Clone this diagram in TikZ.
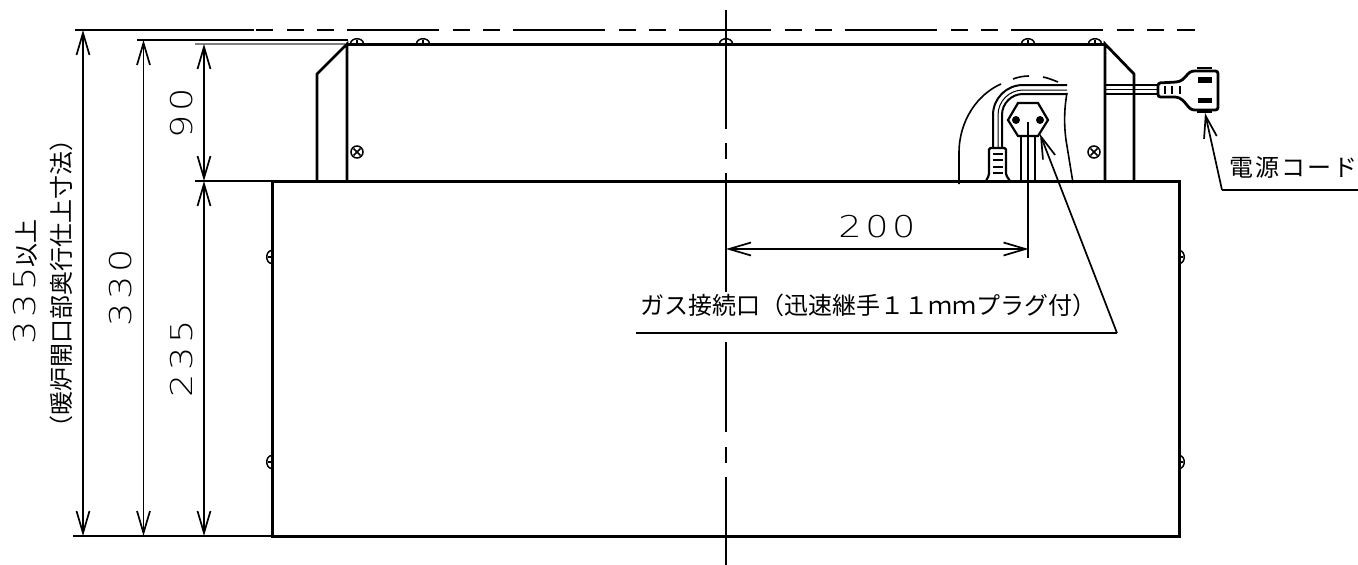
\documentclass[tikz,border=0pt]{standalone}
\usepackage{fontspec}
\setmainfont{Noto Sans CJK JP}
\newfontfamily\cjk{Noto Sans CJK JP}
\newfontfamily\digits[LetterSpace=12,FakeStretch=1.22]{DejaVu Sans ExtraLight}
\usetikzlibrary{arrows.meta,calc}

\begin{document}
\begin{tikzpicture}[
    x=1pt,y=-1pt,
    >={Straight Barb[length=22pt,width=13pt]},
    body/.style={
        draw,
        line width=3pt,
        minimum width=907pt,
        minimum height=355pt,
        inner sep=0pt,
        outer sep=0pt
        },
    thick line/.style={line width=2.8pt},
    dim/.style={line width=1.7pt},
    thin part/.style={line width=1.6pt},
    screw/.style={line width=1.5pt},
    label/.style={inner sep=0pt,font=\fontsize{24pt}{28pt}\selectfont\cjk},
    num/.style={inner sep=0pt,font=\fontsize{30pt}{34pt}\selectfont\digits},
]
\useasboundingbox (0,0) rectangle (1358,565);

% main case
\node[body](case) at (725.5,358.5){};

% extension lines
\coordinate(top1) at (75,30);
\coordinate(top2) at (137,40);
\coordinate(top3) at (195,44);
\coordinate(mid3) at (195,181);
\coordinate(bot1) at (73,536);
\draw[dim] (top1) -- (254,30);
\draw[dim] (top2) -- (348,40);
\draw[dim,gray] (top3) -- (345,44);
\draw[dim] (mid3) -- (case.north west);
\draw[dim] (bot1) -- (case.south west);
\draw[dim] (256,30) -- (273,30);
\draw[dim,dash pattern=on 17pt off 13pt on 17pt off 13pt on 92pt off 14pt] (287,30) -- (1195,30);

% center line
\draw[dim] (726,10) -- (726,129);
\draw[dim] (726,143) -- (726,159);
\draw[dim] (726,173) -- (726,292);
\draw[dim] (726,342) -- (726,432);
\draw[dim] (726,447) -- (726,463);
\draw[dim] (726,477) -- (726,565);

% top cover
\draw[thick line] (317,181) -- (317,74) -- (347,44) -- (347,181);
\draw[thick line] (1105,181) -- (1105,44) -- (1134,74) -- (1134,181);
\draw[thick line] (347,44.5) -- (1105,44.5);
\foreach \x in {357,423,726,1028,1095}{
    \draw[screw] (\x-6.5,44) .. controls (\x-6.5,37) and (\x+6.5,37) .. (\x+6.5,44);
    \draw[screw] (\x,40) -- (\x,44);
}
\foreach \y in {257,462}{
    \draw[screw] (272,\y-6.5) .. controls (265,\y-6.5) and (265,\y+6.5) .. (272,\y+6.5);
    \draw[screw] (268,\y) -- (272,\y);
    \draw[screw] (1179,\y-6.5) .. controls (1186,\y-6.5) and (1186,\y+6.5) .. (1179,\y+6.5);
    \draw[screw] (1183,\y) -- (1179,\y);
}
\foreach \x in {357,1094}{
    \draw[screw] (\x,152) circle (6pt);
    \draw[screw] (\x-3.5,148.5) -- (\x+3.5,155.5);
    \draw[screw] (\x-3.5,155.5) -- (\x+3.5,148.5);
}

% dimensions
\draw[dim,<->] (83,30) -- (83,536);
\draw[dim,<->] (143.5,40) -- (143.5,536);
\draw[dim,<->] (204,44) -- (204,181);
\draw[dim,<->] (204,181) -- (204,536);
\draw[dim,<->] (726,249) -- (1028.5,249);

\node[num,rotate=90](dim90) at (182,113){90};
\node[num,rotate=90](dim235) at (182,359){235};
\node[num,rotate=90](dim330) at (121,288){330};
\node[num](dim200) at (877,227){200};
\node[num,rotate=90](text335) at (25,282){335{\fontsize{24pt}{28pt}\selectfont\cjk 以上}};
\node[label,rotate=90](textopen) at (61,283){（暖炉開口部奥行仕上寸法）};

% gas connection
\coordinate(hexc) at (1028,122);
\draw[dim] (hexc) -- (1028,258);
\draw[line width=2.2pt] (1008,120) -- (1018,103) -- (1038,103) -- (1048,120) -- (1038,136) -- (1018,136) -- cycle;
\fill (1016,120) circle (4pt);
\fill (1040,120) circle (4pt);
\draw[line width=2.2pt] (1021,136) -- (1021,181);
\draw[line width=2.2pt] (1035,136) -- (1035,181);

% bent cord and connector
\draw[line width=2pt] (993,148) -- (993,115) arc[start angle=180,end angle=90,radius=30pt] -- (1067,85);
\draw[line width=1pt] (998,148) -- (998,115) arc[start angle=180,end angle=90,radius=25pt] -- (1067,90);
\draw[line width=2pt] (1002,148) -- (1002,115) arc[start angle=180,end angle=90,radius=21pt] -- (1067,94);
\draw[line width=2.2pt,rounded corners=1.5pt] (986,181) -- (989,175) -- (989,148) -- (1006,148) -- (1006,175) -- (1010,181);
\foreach \y in {154,160,167,173}{
    \draw[line width=1.5pt] (993,\y) -- (1003,\y);
}

% hidden outline
\draw[thin part] (959,184) -- (959,153) .. controls (959,120) and (978,94) .. (1001,84);
\draw[thin part] (1013,79) .. controls (1018,77) and (1024,76) .. (1029,76);
\draw[thin part] (1043,77) .. controls (1048,78) and (1053,80) .. (1058,82);
\draw[thin part] (1067,93) .. controls (1064,110) and (1064,125) .. (1066,140) -- (1073,183);

% gas label
\node[label](gastext) at (868,305){ガス接続口（迅速継手１１ｍｍプラグ付）};
\coordinate(gasend) at (1117,333);
\draw[dim] (636,333) -- (gasend);
\draw[dim,->] (gasend) -- (1040,134);

% power cord and plug
\draw[line width=2pt] (1105,85) -- (1158,85);
\draw[line width=2pt] (1105,94) -- (1158,94);
\draw[line width=1pt] (1105,89.5) -- (1158,89.5);
\draw[thick line,rounded corners=2.5pt,fill=white] (1158,83) -- (1177,82) .. controls (1184,80) and (1187,74) .. (1192,71) -- (1218,71) -- (1218,110) -- (1192,110) .. controls (1187,106) and (1184,100) .. (1177,97) -- (1158,97) -- cycle;
\fill (1198,77) rectangle (1212,83);
\fill (1198,98) rectangle (1212,103);
\draw[line width=2.2pt] (1197,68) -- (1212,68);
\draw[line width=2.2pt] (1197,112) -- (1212,112);
\foreach \x in {1165,1172,1180}{
    \draw[line width=1.8pt] (\x,86) -- (\x,94);
}

% cord label
\node[label,anchor=west](cordtext) at (1229,167){\addfontfeature{LetterSpace=9}電源コード};
\coordinate(cordend) at (1222,190);
\draw[dim] (1358,190) -- (cordend);
\draw[dim,->] (cordend) -- (1205,113);

\end{tikzpicture}
\end{document}
